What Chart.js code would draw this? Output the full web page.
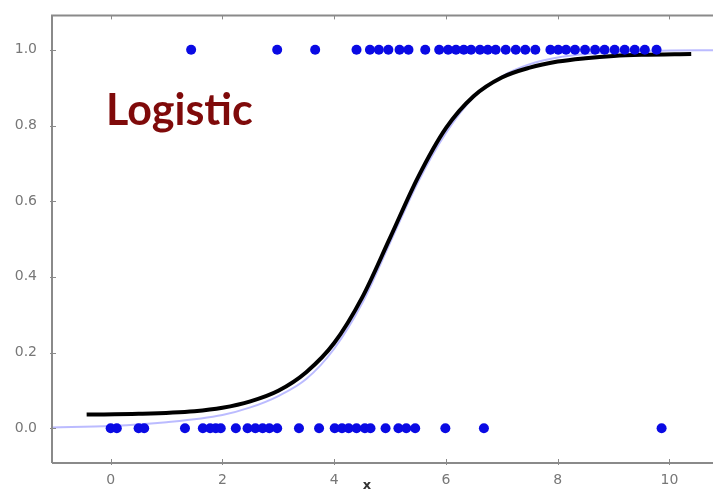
<!DOCTYPE html>
<html>
<head>
<meta charset="utf-8">
<script src="https://cdn.jsdelivr.net/npm/chart.js@4/dist/chart.umd.min.js"></script>
<style>
  html, body { margin: 0; padding: 0; background: #fff; }
  #wrap { width: 718px; height: 494px; position: relative; }
</style>
</head>
<body>
<div id="wrap"><canvas id="c" width="718" height="494"></canvas></div>
<script>
// Observations with outcome 1
const onesX = [1.44, 2.98, 3.66, 4.40, 4.64, 4.80, 4.97, 5.17, 5.33, 5.63, 5.88, 6.04,
  6.18, 6.32, 6.45, 6.61, 6.75, 6.89, 7.07, 7.25, 7.42, 7.60, 7.87, 8.01, 8.15, 8.31,
  8.49, 8.67, 8.84, 9.02, 9.20, 9.38, 9.56, 9.77];
// Observations with outcome 0
const zerosX = [0.00, 0.11, 0.50, 0.60, 1.33, 1.65, 1.78, 1.88, 1.97, 2.24, 2.45, 2.59,
  2.72, 2.84, 2.98, 3.37, 3.73, 4.01, 4.14, 4.26, 4.40, 4.55, 4.65, 4.92, 5.15, 5.29,
  5.45, 5.99, 6.68, 9.86];
// Fitted logistic curve
const fitX = [-0.43, 0.5, 1.5, 2.0, 2.5, 3.0, 3.5, 4.0, 4.5, 5.0, 5.5, 6.0, 6.5, 7.0, 7.5, 8.0, 8.5, 9.0, 9.5, 10.39];
const fitY = [0.036, 0.038, 0.045, 0.054, 0.071, 0.099, 0.148, 0.225, 0.345, 0.503, 0.663, 0.793, 0.878, 0.927, 0.953, 0.969, 0.978, 0.984, 0.987, 0.989];
// Underlying probability curve
const trueX = [-1.05, 0, 1, 2, 2.5, 3, 3.5, 4, 4.5, 5, 5.5, 6, 6.5, 7, 7.5, 8, 9, 10, 10.78];
const trueY = [0.002, 0.006, 0.016, 0.035, 0.055, 0.085, 0.130, 0.210, 0.330, 0.490, 0.650, 0.780, 0.875, 0.930, 0.962, 0.980, 0.994, 0.998, 0.999];
// Axis ticks
const xTicks = [0, 2, 4, 6, 8, 10];
const yTicks = [0.0, 0.2, 0.4, 0.6, 0.8, 1.0];

const GRAY = '#8a8a8a';

const frame = {
  id: 'frame',
  afterDraw(chart) {
    const { ctx, chartArea: a, scales: { x, y } } = chart;
    ctx.save();
    ctx.strokeStyle = GRAY;
    ctx.lineWidth = 2;
    ctx.beginPath();
    ctx.moveTo(a.left, a.bottom); ctx.lineTo(a.left, a.top); ctx.lineTo(a.right, a.top);
    ctx.moveTo(a.left, a.bottom); ctx.lineTo(a.right, a.bottom);
    ctx.stroke();
    ctx.lineWidth = 1;
    ctx.beginPath();
    xTicks.forEach(v => {
      const px = Math.round(x.getPixelForValue(v)) + 0.5;
      ctx.moveTo(px, a.bottom + 2); ctx.lineTo(px, a.bottom - 4);
      ctx.moveTo(px, a.top); ctx.lineTo(px, a.top + 4);
    });
    yTicks.forEach(v => {
      const py = Math.round(y.getPixelForValue(v)) + 0.5;
      ctx.moveTo(a.left - 2, py); ctx.lineTo(a.left + 4, py);
    });
    ctx.stroke();
    // axis label
    ctx.fillStyle = '#333';
    ctx.font = 'bold 13px "DejaVu Sans", sans-serif';
    ctx.textAlign = 'center';
    ctx.textBaseline = 'middle';
    ctx.fillText('x', 367, 486);
    // caption inside the plot
    ctx.fillStyle = '#7f0a0a';
    ctx.font = 'bold 43px Lato, "Open Sans", sans-serif';
    ctx.textAlign = 'left';
    ctx.textBaseline = 'alphabetic';
    ctx.fillText('Logistic', 106, 125);
    ctx.restore();
  }
};

new Chart(document.getElementById('c'), {
  type: 'scatter',
  data: {
    datasets: [
      {
        type: 'line',
        data: trueX.map((v, i) => ({ x: v, y: trueY[i] })),
        borderColor: 'rgba(175,175,255,0.85)',
        borderWidth: 2,
        pointRadius: 0,
        cubicInterpolationMode: 'monotone',
        order: 3
      },
      {
        type: 'line',
        data: fitX.map((v, i) => ({ x: v, y: fitY[i] })),
        borderColor: '#000',
        borderWidth: 4,
        pointRadius: 0,
        cubicInterpolationMode: 'monotone',
        order: 2
      },
      {
        data: onesX.map(v => ({ x: v, y: 1 })),
        backgroundColor: 'rgb(10,10,228)',
        borderWidth: 0,
        pointRadius: 5,
        order: 1
      },
      {
        data: zerosX.map(v => ({ x: v, y: 0 })),
        backgroundColor: 'rgb(10,10,228)',
        borderWidth: 0,
        pointRadius: 5,
        order: 1
      }
    ]
  },
  options: {
    responsive: false,
    animation: false,
    clip: false,
    layout: { padding: { top: 6, right: 0, left: 0, bottom: 0 } },
    plugins: { legend: { display: false }, tooltip: { enabled: false } },
    scales: {
      x: {
        type: 'linear',
        min: -1.05,
        max: 10.78,
        grid: { display: false },
        border: { display: false },
        afterBuildTicks: s => { s.ticks = xTicks.map(v => ({ value: v })); },
        afterFit: s => { s.height = 31; },
        ticks: {
          color: '#777',
          font: { family: 'DejaVu Sans', size: 14 },
          padding: 1,
          maxRotation: 0,
          callback: v => String(v)
        }
      },
      y: {
        type: 'linear',
        min: -0.092,
        max: 1.091,
        grid: { display: false },
        border: { display: false },
        afterBuildTicks: s => { s.ticks = yTicks.map(v => ({ value: v })); },
        afterFit: s => { s.width = 52; },
        ticks: {
          color: '#777',
          font: { family: 'DejaVu Sans', size: 14 },
          padding: 7,
          callback: v => Number(v).toFixed(1)
        }
      }
    }
  },
  plugins: [frame]
});
</script>
</body>
</html>
